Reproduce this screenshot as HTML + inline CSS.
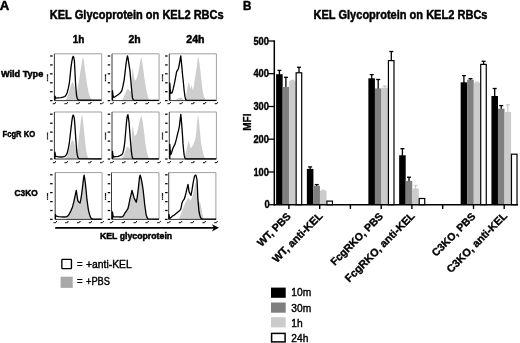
<!DOCTYPE html>
<html lang="en">
<head>
<meta charset="utf-8">
<title>KEL Glycoprotein on KEL2 RBCs</title>
<style>
html,body{margin:0;padding:0;background:#fff;}
body{width:520px;height:343px;overflow:hidden;}
svg{display:block;}
</style>
</head>
<body>
<svg width="520" height="343" viewBox="0 0 520 343">
<rect x="0" y="0" width="520" height="343" fill="#ffffff"/>
<text x="-0.3" y="9.6" font-family="'Liberation Sans', Arial, sans-serif" font-size="12.90" font-weight="bold" textLength="9.5" lengthAdjust="spacingAndGlyphs" stroke="#000" stroke-width="0.50" stroke-linejoin="round" fill="#000" >A</text>
<text x="243.0" y="9.6" font-family="'Liberation Sans', Arial, sans-serif" font-size="11.90" font-weight="bold" textLength="8.4" lengthAdjust="spacingAndGlyphs" stroke="#000" stroke-width="0.45" stroke-linejoin="round" fill="#000" >B</text>
<text x="49.8" y="19.3" font-family="'Liberation Sans', Arial, sans-serif" font-size="11.90" font-weight="bold" textLength="173.9" lengthAdjust="spacingAndGlyphs" stroke="#000" stroke-width="0.45" stroke-linejoin="round" fill="#000" >KEL Glycoprotein on KEL2 RBCs</text>
<text x="313.5" y="19.3" font-family="'Liberation Sans', Arial, sans-serif" font-size="11.90" font-weight="bold" textLength="174.0" lengthAdjust="spacingAndGlyphs" stroke="#000" stroke-width="0.45" stroke-linejoin="round" fill="#000" >KEL Glycoprotein on KEL2 RBCs</text>
<text x="72.7" y="42.6" font-family="'Liberation Sans', Arial, sans-serif" font-size="10.00" font-weight="bold" textLength="11.6" lengthAdjust="spacingAndGlyphs" stroke="#000" stroke-width="0.45" stroke-linejoin="round" fill="#000" >1h</text>
<text x="128.4" y="42.6" font-family="'Liberation Sans', Arial, sans-serif" font-size="10.00" font-weight="bold" textLength="12.2" lengthAdjust="spacingAndGlyphs" stroke="#000" stroke-width="0.45" stroke-linejoin="round" fill="#000" >2h</text>
<text x="186.3" y="42.6" font-family="'Liberation Sans', Arial, sans-serif" font-size="10.00" font-weight="bold" textLength="18.3" lengthAdjust="spacingAndGlyphs" stroke="#000" stroke-width="0.45" stroke-linejoin="round" fill="#000" >24h</text>
<text x="0.9" y="76.8" font-family="'Liberation Sans', Arial, sans-serif" font-size="9.30" font-weight="bold" textLength="42.4" lengthAdjust="spacingAndGlyphs" stroke="#000" stroke-width="0.50" stroke-linejoin="round" fill="#000" >Wild Type</text>
<text x="2.6" y="137.4" font-family="'Liberation Sans', Arial, sans-serif" font-size="9.30" font-weight="bold" textLength="32.5" lengthAdjust="spacingAndGlyphs" stroke="#000" stroke-width="0.50" stroke-linejoin="round" fill="#000" >FcgR KO</text>
<text x="14.6" y="195.8" font-family="'Liberation Sans', Arial, sans-serif" font-size="9.30" font-weight="bold" textLength="23.0" lengthAdjust="spacingAndGlyphs" stroke="#000" stroke-width="0.50" stroke-linejoin="round" fill="#000" >C3KO</text>
<text x="99.9" y="239.3" font-family="'Liberation Sans', Arial, sans-serif" font-size="9.50" font-weight="bold" textLength="72.3" lengthAdjust="spacingAndGlyphs" stroke="#000" stroke-width="0.50" stroke-linejoin="round" fill="#000" >KEL glycoprotein</text>
<text x="76.9" y="267.5" font-family="'Liberation Sans', Arial, sans-serif" font-size="10.00" textLength="5.6" lengthAdjust="spacingAndGlyphs" stroke="#000" stroke-width="0.40" stroke-linejoin="round" fill="#000" >=</text>
<text x="86.0" y="267.5" font-family="'Liberation Sans', Arial, sans-serif" font-size="10.00" textLength="45.7" lengthAdjust="spacingAndGlyphs" stroke="#000" stroke-width="0.40" stroke-linejoin="round" fill="#000" >+anti-KEL</text>
<text x="76.9" y="284.9" font-family="'Liberation Sans', Arial, sans-serif" font-size="10.00" textLength="5.6" lengthAdjust="spacingAndGlyphs" stroke="#000" stroke-width="0.40" stroke-linejoin="round" fill="#000" >=</text>
<text x="86.0" y="284.9" font-family="'Liberation Sans', Arial, sans-serif" font-size="10.00" textLength="24.0" lengthAdjust="spacingAndGlyphs" stroke="#000" stroke-width="0.40" stroke-linejoin="round" fill="#000" >+PBS</text>
<rect x="61.85" y="259.35" width="9.6" height="9.2" rx="0.6" fill="#fff" stroke="#000" stroke-width="1.35"/>
<rect x="60.6" y="276.7" width="12.1" height="11.2" fill="#a8a8a8"/>
<line x1="55.2" y1="227.8" x2="214.5" y2="227.8" stroke="#000" stroke-width="1.7"/>
<path d="M219.0,227.8 L211.9,224.2 L213.9,227.8 L211.9,231.4 Z" fill="#000"/>
<path d="M65.5,100.4 L67.5,96.5 L69.4,90.5 L71.0,84.9 L72.6,81.8 L74.0,84.4 L75.5,90.5 L76.4,94.0 L77.2,90.4 L78.4,83.9 L79.5,78.1 L80.4,71.2 L81.3,65.7 L82.2,60.1 L83.1,56.9 L83.7,59.5 L84.3,64.2 L85.2,71.2 L86.1,78.1 L87.1,84.4 L88.2,90.4 L89.3,95.0 L90.5,98.1 L91.7,100.4Z" fill="#cecece"/>
<path d="M54.4,53.8 H101.7 V100.6" fill="none" stroke="#777" stroke-width="0.7"/>
<path d="M54.4,53.8 V100.6 H101.7" fill="none" stroke="#222" stroke-width="0.9"/>
<path d="M54.9,100.4 L54.9,96.1 L55.8,98.1 L58.0,97.8 L61.1,97.6 L63.0,97.2 L64.9,96.5 L66.0,95.1 L67.2,92.7 L68.3,88.4 L69.4,82.7 L70.2,75.3 L71.0,67.4 L71.8,61.6 L72.5,58.0 L73.2,56.3 L73.8,57.5 L74.4,61.1 L75.0,72.2 L75.5,82.7 L76.1,90.5 L76.6,96.0 L77.4,98.9 L78.5,100.0 L101.4,100.2" fill="none" stroke="#000" stroke-width="1.3" stroke-linejoin="round"/>
<line x1="50.1" y1="100.6" x2="52.6" y2="100.6" stroke="#000" stroke-width="1.25"/>
<line x1="50.1" y1="91.7" x2="52.6" y2="91.7" stroke="#000" stroke-width="1.25"/>
<line x1="50.1" y1="82.8" x2="52.6" y2="82.8" stroke="#000" stroke-width="1.25"/>
<line x1="50.1" y1="73.8" x2="52.6" y2="73.8" stroke="#000" stroke-width="1.25"/>
<line x1="50.1" y1="64.9" x2="52.6" y2="64.9" stroke="#000" stroke-width="1.25"/>
<line x1="50.1" y1="56.0" x2="52.6" y2="56.0" stroke="#000" stroke-width="1.25"/>
<text transform="translate(48.1,77.8) rotate(-90)" font-family="'Liberation Sans', sans-serif" font-size="1.6" font-weight="bold" fill="#111" stroke="#111" stroke-width="0.3" text-anchor="middle">% of Max</text>
<text x="54.4" y="104.2" font-family="'Liberation Sans', sans-serif" font-size="2.2" font-weight="bold" fill="#111" stroke="#111" stroke-width="0.25" text-anchor="middle">10<tspan dy="-0.9" font-size="1.8">0</tspan></text>
<text x="66.2" y="104.2" font-family="'Liberation Sans', sans-serif" font-size="2.2" font-weight="bold" fill="#111" stroke="#111" stroke-width="0.25" text-anchor="middle">10<tspan dy="-0.9" font-size="1.8">1</tspan></text>
<text x="78.0" y="104.2" font-family="'Liberation Sans', sans-serif" font-size="2.2" font-weight="bold" fill="#111" stroke="#111" stroke-width="0.25" text-anchor="middle">10<tspan dy="-0.9" font-size="1.8">2</tspan></text>
<text x="89.9" y="104.2" font-family="'Liberation Sans', sans-serif" font-size="2.2" font-weight="bold" fill="#111" stroke="#111" stroke-width="0.25" text-anchor="middle">10<tspan dy="-0.9" font-size="1.8">3</tspan></text>
<text x="101.7" y="104.2" font-family="'Liberation Sans', sans-serif" font-size="2.2" font-weight="bold" fill="#111" stroke="#111" stroke-width="0.25" text-anchor="middle">10<tspan dy="-0.9" font-size="1.8">4</tspan></text>
<path d="M122.0,100.4 L124.0,96.5 L126.0,91.5 L127.8,88.4 L129.5,90.5 L131.0,91.5 L131.6,80.3 L132.5,68.1 L133.2,71.2 L134.0,77.3 L135.0,81.1 L136.4,78.8 L137.8,75.0 L139.0,69.2 L140.0,62.7 L140.7,59.0 L141.3,57.1 L141.9,60.1 L142.6,64.2 L143.4,70.2 L144.2,76.5 L145.1,82.9 L146.1,88.8 L147.1,93.5 L148.1,97.3 L149.2,100.4Z" fill="#cecece"/>
<path d="M112.0,53.8 H159.1 V100.6" fill="none" stroke="#777" stroke-width="0.7"/>
<path d="M112.0,53.8 V100.6 H159.1" fill="none" stroke="#222" stroke-width="0.9"/>
<path d="M112.5,100.4 L112.5,90.7 L113.0,95.5 L113.6,97.3 L115.0,96.8 L116.6,95.7 L118.0,94.7 L119.6,93.4 L120.8,92.3 L121.9,90.4 L123.0,85.9 L124.2,79.6 L125.1,72.2 L126.0,64.2 L126.8,59.0 L127.5,56.0 L128.1,58.5 L128.7,62.7 L129.3,66.6 L129.9,70.4 L130.6,78.3 L131.4,87.2 L132.0,93.5 L132.5,98.1 L133.2,99.6 L134.0,100.2 L158.8,100.3" fill="none" stroke="#000" stroke-width="1.3" stroke-linejoin="round"/>
<line x1="107.7" y1="100.6" x2="110.2" y2="100.6" stroke="#000" stroke-width="1.25"/>
<line x1="107.7" y1="91.7" x2="110.2" y2="91.7" stroke="#000" stroke-width="1.25"/>
<line x1="107.7" y1="82.8" x2="110.2" y2="82.8" stroke="#000" stroke-width="1.25"/>
<line x1="107.7" y1="73.8" x2="110.2" y2="73.8" stroke="#000" stroke-width="1.25"/>
<line x1="107.7" y1="64.9" x2="110.2" y2="64.9" stroke="#000" stroke-width="1.25"/>
<line x1="107.7" y1="56.0" x2="110.2" y2="56.0" stroke="#000" stroke-width="1.25"/>
<text transform="translate(105.7,77.8) rotate(-90)" font-family="'Liberation Sans', sans-serif" font-size="1.6" font-weight="bold" fill="#111" stroke="#111" stroke-width="0.3" text-anchor="middle">% of Max</text>
<text x="112.0" y="104.2" font-family="'Liberation Sans', sans-serif" font-size="2.2" font-weight="bold" fill="#111" stroke="#111" stroke-width="0.25" text-anchor="middle">10<tspan dy="-0.9" font-size="1.8">0</tspan></text>
<text x="123.8" y="104.2" font-family="'Liberation Sans', sans-serif" font-size="2.2" font-weight="bold" fill="#111" stroke="#111" stroke-width="0.25" text-anchor="middle">10<tspan dy="-0.9" font-size="1.8">1</tspan></text>
<text x="135.6" y="104.2" font-family="'Liberation Sans', sans-serif" font-size="2.2" font-weight="bold" fill="#111" stroke="#111" stroke-width="0.25" text-anchor="middle">10<tspan dy="-0.9" font-size="1.8">2</tspan></text>
<text x="147.3" y="104.2" font-family="'Liberation Sans', sans-serif" font-size="2.2" font-weight="bold" fill="#111" stroke="#111" stroke-width="0.25" text-anchor="middle">10<tspan dy="-0.9" font-size="1.8">3</tspan></text>
<text x="159.1" y="104.2" font-family="'Liberation Sans', sans-serif" font-size="2.2" font-weight="bold" fill="#111" stroke="#111" stroke-width="0.25" text-anchor="middle">10<tspan dy="-0.9" font-size="1.8">4</tspan></text>
<path d="M175.0,100.4 L177.0,98.8 L179.5,97.9 L181.0,97.2 L182.5,98.6 L184.0,100.4Z" fill="#cecece"/>
<path d="M185.2,100.4 L186.0,96.5 L187.2,88.8 L188.2,84.4 L189.0,81.8 L189.6,84.9 L190.2,88.8 L190.9,86.9 L191.5,85.0 L192.3,87.9 L193.0,90.4 L193.9,85.9 L194.8,79.6 L196.0,71.7 L197.1,64.2 L197.7,59.5 L198.3,56.0 L198.9,59.5 L199.6,64.2 L200.4,71.2 L201.2,78.1 L202.1,86.4 L203.1,93.4 L204.1,96.9 L205.1,98.8 L207.0,100.4Z" fill="#cecece"/>
<path d="M169.3,53.8 H216.4 V100.6" fill="none" stroke="#777" stroke-width="0.7"/>
<path d="M169.3,53.8 V100.6 H216.4" fill="none" stroke="#222" stroke-width="0.9"/>
<path d="M169.8,100.4 L169.8,83.2 L170.2,89.5 L170.7,93.4 L172.1,92.7 L173.2,88.9 L174.3,84.2 L175.5,77.8 L176.6,71.9 L177.4,70.4 L178.1,69.6 L178.9,66.6 L179.6,62.7 L180.2,59.0 L180.8,56.0 L181.3,61.1 L181.9,67.4 L182.6,75.3 L183.4,82.7 L184.1,90.0 L184.9,96.4 L185.6,99.2 L186.5,100.2 L216.2,100.3" fill="none" stroke="#000" stroke-width="1.3" stroke-linejoin="round"/>
<line x1="165.1" y1="100.6" x2="167.6" y2="100.6" stroke="#000" stroke-width="1.25"/>
<line x1="165.1" y1="91.7" x2="167.6" y2="91.7" stroke="#000" stroke-width="1.25"/>
<line x1="165.1" y1="82.8" x2="167.6" y2="82.8" stroke="#000" stroke-width="1.25"/>
<line x1="165.1" y1="73.8" x2="167.6" y2="73.8" stroke="#000" stroke-width="1.25"/>
<line x1="165.1" y1="64.9" x2="167.6" y2="64.9" stroke="#000" stroke-width="1.25"/>
<line x1="165.1" y1="56.0" x2="167.6" y2="56.0" stroke="#000" stroke-width="1.25"/>
<text transform="translate(163.1,77.8) rotate(-90)" font-family="'Liberation Sans', sans-serif" font-size="1.6" font-weight="bold" fill="#111" stroke="#111" stroke-width="0.3" text-anchor="middle">% of Max</text>
<text x="169.3" y="104.2" font-family="'Liberation Sans', sans-serif" font-size="2.2" font-weight="bold" fill="#111" stroke="#111" stroke-width="0.25" text-anchor="middle">10<tspan dy="-0.9" font-size="1.8">0</tspan></text>
<text x="181.1" y="104.2" font-family="'Liberation Sans', sans-serif" font-size="2.2" font-weight="bold" fill="#111" stroke="#111" stroke-width="0.25" text-anchor="middle">10<tspan dy="-0.9" font-size="1.8">1</tspan></text>
<text x="192.9" y="104.2" font-family="'Liberation Sans', sans-serif" font-size="2.2" font-weight="bold" fill="#111" stroke="#111" stroke-width="0.25" text-anchor="middle">10<tspan dy="-0.9" font-size="1.8">2</tspan></text>
<text x="204.6" y="104.2" font-family="'Liberation Sans', sans-serif" font-size="2.2" font-weight="bold" fill="#111" stroke="#111" stroke-width="0.25" text-anchor="middle">10<tspan dy="-0.9" font-size="1.8">3</tspan></text>
<text x="216.4" y="104.2" font-family="'Liberation Sans', sans-serif" font-size="2.2" font-weight="bold" fill="#111" stroke="#111" stroke-width="0.25" text-anchor="middle">10<tspan dy="-0.9" font-size="1.8">4</tspan></text>
<path d="M65.5,158.9 L67.5,154.7 L69.4,148.6 L71.0,142.5 L72.6,140.0 L74.0,142.5 L75.5,149.1 L76.8,152.2 L77.6,147.6 L78.5,140.8 L79.3,134.4 L80.0,128.4 L80.8,121.6 L81.6,116.1 L82.2,115.0 L82.8,118.6 L83.5,125.4 L84.3,133.3 L85.0,140.8 L85.8,147.6 L86.6,153.1 L87.5,156.3 L88.4,158.1 L89.3,158.9Z" fill="#cecece"/>
<path d="M54.4,112.0 H101.7 V159.0" fill="none" stroke="#777" stroke-width="0.7"/>
<path d="M54.4,112.0 V159.0 H101.7" fill="none" stroke="#222" stroke-width="0.9"/>
<path d="M54.9,158.9 L54.9,152.2 L55.4,155.2 L56.0,156.3 L58.5,156.8 L61.1,157.0 L63.0,156.8 L64.9,156.3 L66.1,155.1 L67.2,153.1 L68.3,148.6 L69.4,142.3 L70.2,135.4 L71.0,128.4 L71.8,121.6 L72.5,116.8 L73.2,115.0 L73.8,116.0 L74.4,119.2 L75.0,126.7 L75.5,134.7 L76.1,143.0 L76.6,150.0 L77.2,154.2 L77.8,157.0 L78.6,158.3 L79.5,158.7 L101.4,158.8" fill="none" stroke="#000" stroke-width="1.3" stroke-linejoin="round"/>
<line x1="50.1" y1="159.0" x2="52.6" y2="159.0" stroke="#000" stroke-width="1.25"/>
<line x1="50.1" y1="150.0" x2="52.6" y2="150.0" stroke="#000" stroke-width="1.25"/>
<line x1="50.1" y1="141.1" x2="52.6" y2="141.1" stroke="#000" stroke-width="1.25"/>
<line x1="50.1" y1="132.1" x2="52.6" y2="132.1" stroke="#000" stroke-width="1.25"/>
<line x1="50.1" y1="123.2" x2="52.6" y2="123.2" stroke="#000" stroke-width="1.25"/>
<line x1="50.1" y1="114.2" x2="52.6" y2="114.2" stroke="#000" stroke-width="1.25"/>
<text transform="translate(48.1,136.1) rotate(-90)" font-family="'Liberation Sans', sans-serif" font-size="1.6" font-weight="bold" fill="#111" stroke="#111" stroke-width="0.3" text-anchor="middle">% of Max</text>
<text x="54.4" y="162.6" font-family="'Liberation Sans', sans-serif" font-size="2.2" font-weight="bold" fill="#111" stroke="#111" stroke-width="0.25" text-anchor="middle">10<tspan dy="-0.9" font-size="1.8">0</tspan></text>
<text x="66.2" y="162.6" font-family="'Liberation Sans', sans-serif" font-size="2.2" font-weight="bold" fill="#111" stroke="#111" stroke-width="0.25" text-anchor="middle">10<tspan dy="-0.9" font-size="1.8">1</tspan></text>
<text x="78.0" y="162.6" font-family="'Liberation Sans', sans-serif" font-size="2.2" font-weight="bold" fill="#111" stroke="#111" stroke-width="0.25" text-anchor="middle">10<tspan dy="-0.9" font-size="1.8">2</tspan></text>
<text x="89.9" y="162.6" font-family="'Liberation Sans', sans-serif" font-size="2.2" font-weight="bold" fill="#111" stroke="#111" stroke-width="0.25" text-anchor="middle">10<tspan dy="-0.9" font-size="1.8">3</tspan></text>
<text x="101.7" y="162.6" font-family="'Liberation Sans', sans-serif" font-size="2.2" font-weight="bold" fill="#111" stroke="#111" stroke-width="0.25" text-anchor="middle">10<tspan dy="-0.9" font-size="1.8">4</tspan></text>
<path d="M122.0,158.9 L124.0,154.7 L126.0,149.1 L127.8,146.6 L129.5,149.1 L131.0,147.6 L131.7,136.4 L132.5,125.4 L133.2,128.2 L133.9,132.8 L134.5,136.2 L135.8,134.9 L137.0,133.0 L138.2,127.7 L139.3,122.2 L140.3,118.4 L141.3,115.1 L142.0,118.1 L142.8,122.6 L143.7,129.3 L144.6,136.2 L145.4,143.0 L146.1,148.5 L147.1,152.9 L148.1,156.3 L149.2,158.9Z" fill="#cecece"/>
<path d="M112.0,112.0 H159.1 V159.0" fill="none" stroke="#777" stroke-width="0.7"/>
<path d="M112.0,112.0 V159.0 H159.1" fill="none" stroke="#222" stroke-width="0.9"/>
<path d="M112.5,158.9 L112.5,151.3 L112.9,155.2 L113.4,157.0 L115.5,156.7 L118.1,156.3 L120.0,155.6 L121.9,154.7 L123.1,152.2 L124.2,147.0 L125.0,140.0 L125.7,131.5 L126.3,124.2 L126.9,118.4 L127.4,115.8 L127.9,114.7 L128.4,117.6 L129.0,122.2 L129.6,129.8 L130.2,137.7 L130.8,145.1 L131.4,151.6 L132.0,155.7 L132.5,158.1 L133.3,158.7 L158.8,158.8" fill="none" stroke="#000" stroke-width="1.3" stroke-linejoin="round"/>
<line x1="107.7" y1="159.0" x2="110.2" y2="159.0" stroke="#000" stroke-width="1.25"/>
<line x1="107.7" y1="150.0" x2="110.2" y2="150.0" stroke="#000" stroke-width="1.25"/>
<line x1="107.7" y1="141.1" x2="110.2" y2="141.1" stroke="#000" stroke-width="1.25"/>
<line x1="107.7" y1="132.1" x2="110.2" y2="132.1" stroke="#000" stroke-width="1.25"/>
<line x1="107.7" y1="123.2" x2="110.2" y2="123.2" stroke="#000" stroke-width="1.25"/>
<line x1="107.7" y1="114.2" x2="110.2" y2="114.2" stroke="#000" stroke-width="1.25"/>
<text transform="translate(105.7,136.1) rotate(-90)" font-family="'Liberation Sans', sans-serif" font-size="1.6" font-weight="bold" fill="#111" stroke="#111" stroke-width="0.3" text-anchor="middle">% of Max</text>
<text x="112.0" y="162.6" font-family="'Liberation Sans', sans-serif" font-size="2.2" font-weight="bold" fill="#111" stroke="#111" stroke-width="0.25" text-anchor="middle">10<tspan dy="-0.9" font-size="1.8">0</tspan></text>
<text x="123.8" y="162.6" font-family="'Liberation Sans', sans-serif" font-size="2.2" font-weight="bold" fill="#111" stroke="#111" stroke-width="0.25" text-anchor="middle">10<tspan dy="-0.9" font-size="1.8">1</tspan></text>
<text x="135.6" y="162.6" font-family="'Liberation Sans', sans-serif" font-size="2.2" font-weight="bold" fill="#111" stroke="#111" stroke-width="0.25" text-anchor="middle">10<tspan dy="-0.9" font-size="1.8">2</tspan></text>
<text x="147.3" y="162.6" font-family="'Liberation Sans', sans-serif" font-size="2.2" font-weight="bold" fill="#111" stroke="#111" stroke-width="0.25" text-anchor="middle">10<tspan dy="-0.9" font-size="1.8">3</tspan></text>
<text x="159.1" y="162.6" font-family="'Liberation Sans', sans-serif" font-size="2.2" font-weight="bold" fill="#111" stroke="#111" stroke-width="0.25" text-anchor="middle">10<tspan dy="-0.9" font-size="1.8">4</tspan></text>
<path d="M184.0,158.9 L185.2,155.2 L186.5,150.0 L187.7,144.7 L188.7,140.8 L189.7,144.5 L190.6,148.5 L192.0,146.8 L193.3,144.6 L194.5,141.5 L195.6,137.7 L196.4,130.3 L197.1,122.2 L197.6,117.6 L198.0,114.7 L198.7,119.1 L199.4,125.4 L200.3,134.9 L201.2,143.9 L202.1,149.1 L203.1,153.1 L204.1,156.3 L205.1,158.1 L206.3,158.9Z" fill="#cecece"/>
<path d="M169.3,112.0 H216.4 V159.0" fill="none" stroke="#777" stroke-width="0.7"/>
<path d="M169.3,112.0 V159.0 H216.4" fill="none" stroke="#222" stroke-width="0.9"/>
<path d="M169.8,158.9 L169.8,144.3 L170.2,150.7 L170.7,154.7 L171.7,152.2 L172.8,148.5 L174.0,146.1 L175.1,143.9 L176.3,139.4 L177.4,134.7 L178.4,130.8 L179.3,126.9 L180.1,120.1 L180.8,114.3 L181.3,119.6 L181.9,126.9 L182.5,135.4 L183.0,143.9 L183.6,150.1 L184.2,155.4 L184.9,157.8 L185.7,158.8 L216.2,158.8" fill="none" stroke="#000" stroke-width="1.3" stroke-linejoin="round"/>
<line x1="165.1" y1="159.0" x2="167.6" y2="159.0" stroke="#000" stroke-width="1.25"/>
<line x1="165.1" y1="150.0" x2="167.6" y2="150.0" stroke="#000" stroke-width="1.25"/>
<line x1="165.1" y1="141.1" x2="167.6" y2="141.1" stroke="#000" stroke-width="1.25"/>
<line x1="165.1" y1="132.1" x2="167.6" y2="132.1" stroke="#000" stroke-width="1.25"/>
<line x1="165.1" y1="123.2" x2="167.6" y2="123.2" stroke="#000" stroke-width="1.25"/>
<line x1="165.1" y1="114.2" x2="167.6" y2="114.2" stroke="#000" stroke-width="1.25"/>
<text transform="translate(163.1,136.1) rotate(-90)" font-family="'Liberation Sans', sans-serif" font-size="1.6" font-weight="bold" fill="#111" stroke="#111" stroke-width="0.3" text-anchor="middle">% of Max</text>
<text x="169.3" y="162.6" font-family="'Liberation Sans', sans-serif" font-size="2.2" font-weight="bold" fill="#111" stroke="#111" stroke-width="0.25" text-anchor="middle">10<tspan dy="-0.9" font-size="1.8">0</tspan></text>
<text x="181.1" y="162.6" font-family="'Liberation Sans', sans-serif" font-size="2.2" font-weight="bold" fill="#111" stroke="#111" stroke-width="0.25" text-anchor="middle">10<tspan dy="-0.9" font-size="1.8">1</tspan></text>
<text x="192.9" y="162.6" font-family="'Liberation Sans', sans-serif" font-size="2.2" font-weight="bold" fill="#111" stroke="#111" stroke-width="0.25" text-anchor="middle">10<tspan dy="-0.9" font-size="1.8">2</tspan></text>
<text x="204.6" y="162.6" font-family="'Liberation Sans', sans-serif" font-size="2.2" font-weight="bold" fill="#111" stroke="#111" stroke-width="0.25" text-anchor="middle">10<tspan dy="-0.9" font-size="1.8">3</tspan></text>
<text x="216.4" y="162.6" font-family="'Liberation Sans', sans-serif" font-size="2.2" font-weight="bold" fill="#111" stroke="#111" stroke-width="0.25" text-anchor="middle">10<tspan dy="-0.9" font-size="1.8">4</tspan></text>
<path d="M66.4,219.3 L68.0,215.8 L69.4,213.8 L71.0,210.6 L72.5,206.9 L73.7,202.4 L74.7,197.7 L75.5,193.8 L76.3,190.5 L77.0,195.3 L77.8,200.7 L78.9,202.2 L80.0,203.0 L80.8,199.4 L81.6,194.5 L82.4,188.2 L83.1,182.2 L83.6,178.0 L84.1,175.1 L84.8,179.1 L85.4,183.7 L86.2,191.3 L86.9,199.2 L87.7,205.0 L88.4,209.9 L89.5,214.4 L90.7,217.7 L91.5,219.3Z" fill="#cecece"/>
<path d="M55.2,172.6 H102.1 V219.4" fill="none" stroke="#777" stroke-width="0.7"/>
<path d="M55.2,172.6 V219.4 H102.1" fill="none" stroke="#222" stroke-width="0.9"/>
<path d="M55.4,219.3 L55.4,214.4 L55.8,215.6 L56.4,216.1 L58.5,216.7 L61.1,216.9 L64.0,217.0 L66.4,216.9 L68.0,215.8 L69.4,213.8 L71.0,210.6 L72.5,206.9 L73.7,202.4 L74.7,197.7 L75.5,193.8 L76.3,190.5 L77.0,195.3 L77.8,200.7 L78.9,202.2 L80.0,203.0 L80.8,199.4 L81.6,194.5 L82.4,188.2 L83.1,182.2 L83.6,178.0 L84.1,175.1 L84.8,179.1 L85.4,183.7 L86.2,191.3 L86.9,199.2 L87.7,205.0 L88.4,209.9 L89.5,214.4 L90.7,217.7 L91.8,218.7 L92.9,219.1 L101.4,219.2" fill="none" stroke="#000" stroke-width="1.3" stroke-linejoin="round"/>
<line x1="50.1" y1="219.4" x2="52.6" y2="219.4" stroke="#000" stroke-width="1.25"/>
<line x1="50.1" y1="210.5" x2="52.6" y2="210.5" stroke="#000" stroke-width="1.25"/>
<line x1="50.1" y1="201.6" x2="52.6" y2="201.6" stroke="#000" stroke-width="1.25"/>
<line x1="50.1" y1="192.6" x2="52.6" y2="192.6" stroke="#000" stroke-width="1.25"/>
<line x1="50.1" y1="183.7" x2="52.6" y2="183.7" stroke="#000" stroke-width="1.25"/>
<line x1="50.1" y1="174.8" x2="52.6" y2="174.8" stroke="#000" stroke-width="1.25"/>
<text transform="translate(48.1,196.6) rotate(-90)" font-family="'Liberation Sans', sans-serif" font-size="1.6" font-weight="bold" fill="#111" stroke="#111" stroke-width="0.3" text-anchor="middle">% of Max</text>
<text x="55.2" y="223.0" font-family="'Liberation Sans', sans-serif" font-size="2.2" font-weight="bold" fill="#111" stroke="#111" stroke-width="0.25" text-anchor="middle">10<tspan dy="-0.9" font-size="1.8">0</tspan></text>
<text x="66.9" y="223.0" font-family="'Liberation Sans', sans-serif" font-size="2.2" font-weight="bold" fill="#111" stroke="#111" stroke-width="0.25" text-anchor="middle">10<tspan dy="-0.9" font-size="1.8">1</tspan></text>
<text x="78.7" y="223.0" font-family="'Liberation Sans', sans-serif" font-size="2.2" font-weight="bold" fill="#111" stroke="#111" stroke-width="0.25" text-anchor="middle">10<tspan dy="-0.9" font-size="1.8">2</tspan></text>
<text x="90.4" y="223.0" font-family="'Liberation Sans', sans-serif" font-size="2.2" font-weight="bold" fill="#111" stroke="#111" stroke-width="0.25" text-anchor="middle">10<tspan dy="-0.9" font-size="1.8">3</tspan></text>
<text x="102.1" y="223.0" font-family="'Liberation Sans', sans-serif" font-size="2.2" font-weight="bold" fill="#111" stroke="#111" stroke-width="0.25" text-anchor="middle">10<tspan dy="-0.9" font-size="1.8">4</tspan></text>
<path d="M122.6,219.3 L123.8,215.1 L124.9,213.0 L126.5,210.8 L128.0,208.4 L129.0,204.0 L129.9,199.2 L131.0,194.8 L132.0,190.5 L133.0,193.8 L134.0,197.7 L135.2,200.1 L136.3,202.2 L137.1,197.9 L137.8,193.0 L138.6,186.2 L139.3,179.2 L139.7,176.5 L140.1,175.1 L140.9,177.5 L141.6,180.7 L142.4,185.2 L143.1,189.9 L143.9,196.8 L144.6,203.8 L145.4,209.5 L146.1,214.6 L147.1,217.5 L148.1,219.3Z" fill="#cecece"/>
<path d="M111.5,172.6 H159.0 V219.4" fill="none" stroke="#777" stroke-width="0.7"/>
<path d="M111.5,172.6 V219.4 H159.0" fill="none" stroke="#222" stroke-width="0.9"/>
<path d="M112.5,219.3 L112.5,212.0 L112.9,215.1 L113.4,216.9 L115.5,216.9 L118.1,216.9 L120.5,217.0 L122.6,216.9 L123.8,215.1 L124.9,213.0 L126.5,210.8 L128.0,208.4 L129.0,204.0 L129.9,199.2 L131.0,194.8 L132.0,190.5 L133.0,193.8 L134.0,197.7 L135.2,200.1 L136.3,202.2 L137.1,197.9 L137.8,193.0 L138.6,186.2 L139.3,179.2 L139.7,176.5 L140.1,175.1 L140.9,177.5 L141.6,180.7 L142.4,185.2 L143.1,189.9 L143.9,196.8 L144.6,203.8 L145.4,209.5 L146.1,214.6 L147.1,217.5 L148.1,218.9 L158.8,219.2" fill="none" stroke="#000" stroke-width="1.3" stroke-linejoin="round"/>
<line x1="107.7" y1="219.4" x2="110.2" y2="219.4" stroke="#000" stroke-width="1.25"/>
<line x1="107.7" y1="210.5" x2="110.2" y2="210.5" stroke="#000" stroke-width="1.25"/>
<line x1="107.7" y1="201.6" x2="110.2" y2="201.6" stroke="#000" stroke-width="1.25"/>
<line x1="107.7" y1="192.6" x2="110.2" y2="192.6" stroke="#000" stroke-width="1.25"/>
<line x1="107.7" y1="183.7" x2="110.2" y2="183.7" stroke="#000" stroke-width="1.25"/>
<line x1="107.7" y1="174.8" x2="110.2" y2="174.8" stroke="#000" stroke-width="1.25"/>
<text transform="translate(105.7,196.6) rotate(-90)" font-family="'Liberation Sans', sans-serif" font-size="1.6" font-weight="bold" fill="#111" stroke="#111" stroke-width="0.3" text-anchor="middle">% of Max</text>
<text x="111.5" y="223.0" font-family="'Liberation Sans', sans-serif" font-size="2.2" font-weight="bold" fill="#111" stroke="#111" stroke-width="0.25" text-anchor="middle">10<tspan dy="-0.9" font-size="1.8">0</tspan></text>
<text x="123.4" y="223.0" font-family="'Liberation Sans', sans-serif" font-size="2.2" font-weight="bold" fill="#111" stroke="#111" stroke-width="0.25" text-anchor="middle">10<tspan dy="-0.9" font-size="1.8">1</tspan></text>
<text x="135.2" y="223.0" font-family="'Liberation Sans', sans-serif" font-size="2.2" font-weight="bold" fill="#111" stroke="#111" stroke-width="0.25" text-anchor="middle">10<tspan dy="-0.9" font-size="1.8">2</tspan></text>
<text x="147.1" y="223.0" font-family="'Liberation Sans', sans-serif" font-size="2.2" font-weight="bold" fill="#111" stroke="#111" stroke-width="0.25" text-anchor="middle">10<tspan dy="-0.9" font-size="1.8">3</tspan></text>
<text x="159.0" y="223.0" font-family="'Liberation Sans', sans-serif" font-size="2.2" font-weight="bold" fill="#111" stroke="#111" stroke-width="0.25" text-anchor="middle">10<tspan dy="-0.9" font-size="1.8">4</tspan></text>
<path d="M179.0,219.3 L180.5,215.1 L181.9,211.5 L183.5,207.5 L185.0,203.8 L186.1,201.4 L187.2,199.2 L188.0,198.2 L188.7,197.7 L189.5,199.4 L190.2,200.7 L191.4,198.9 L192.5,196.1 L193.7,191.3 L194.8,185.4 L195.6,182.6 L196.3,180.7 L197.5,189.2 L198.6,200.7 L199.6,202.2 L200.6,203.8 L201.5,209.0 L202.4,214.6 L203.3,217.5 L204.2,219.3Z" fill="#cecece"/>
<path d="M168.7,172.6 H215.9 V219.4" fill="none" stroke="#777" stroke-width="0.7"/>
<path d="M168.7,172.6 V219.4 H215.9" fill="none" stroke="#222" stroke-width="0.9"/>
<path d="M168.9,219.3 L168.9,214.4 L169.4,217.2 L170.0,218.3 L171.5,217.1 L172.8,215.8 L174.4,215.0 L176.4,213.2 L178.5,211.5 L179.8,210.4 L180.8,209.2 L181.4,206.0 L181.9,203.4 L182.5,201.7 L183.1,200.6 L184.2,199.2 L185.1,196.3 L186.0,193.0 L187.0,188.7 L188.0,184.3 L188.5,187.7 L189.0,191.5 L190.0,193.6 L191.0,195.3 L192.0,190.2 L193.0,183.7 L193.8,179.6 L194.5,176.1 L195.2,175.4 L195.9,175.1 L196.5,177.5 L197.1,180.7 L197.5,189.2 L197.8,197.7 L198.4,205.0 L199.0,211.5 L199.8,215.1 L200.6,217.7 L202.0,218.9 L216.2,219.2" fill="none" stroke="#000" stroke-width="1.3" stroke-linejoin="round"/>
<line x1="165.1" y1="219.4" x2="167.6" y2="219.4" stroke="#000" stroke-width="1.25"/>
<line x1="165.1" y1="210.5" x2="167.6" y2="210.5" stroke="#000" stroke-width="1.25"/>
<line x1="165.1" y1="201.6" x2="167.6" y2="201.6" stroke="#000" stroke-width="1.25"/>
<line x1="165.1" y1="192.6" x2="167.6" y2="192.6" stroke="#000" stroke-width="1.25"/>
<line x1="165.1" y1="183.7" x2="167.6" y2="183.7" stroke="#000" stroke-width="1.25"/>
<line x1="165.1" y1="174.8" x2="167.6" y2="174.8" stroke="#000" stroke-width="1.25"/>
<text transform="translate(163.1,196.6) rotate(-90)" font-family="'Liberation Sans', sans-serif" font-size="1.6" font-weight="bold" fill="#111" stroke="#111" stroke-width="0.3" text-anchor="middle">% of Max</text>
<text x="168.7" y="223.0" font-family="'Liberation Sans', sans-serif" font-size="2.2" font-weight="bold" fill="#111" stroke="#111" stroke-width="0.25" text-anchor="middle">10<tspan dy="-0.9" font-size="1.8">0</tspan></text>
<text x="180.5" y="223.0" font-family="'Liberation Sans', sans-serif" font-size="2.2" font-weight="bold" fill="#111" stroke="#111" stroke-width="0.25" text-anchor="middle">10<tspan dy="-0.9" font-size="1.8">1</tspan></text>
<text x="192.3" y="223.0" font-family="'Liberation Sans', sans-serif" font-size="2.2" font-weight="bold" fill="#111" stroke="#111" stroke-width="0.25" text-anchor="middle">10<tspan dy="-0.9" font-size="1.8">2</tspan></text>
<text x="204.1" y="223.0" font-family="'Liberation Sans', sans-serif" font-size="2.2" font-weight="bold" fill="#111" stroke="#111" stroke-width="0.25" text-anchor="middle">10<tspan dy="-0.9" font-size="1.8">3</tspan></text>
<text x="215.9" y="223.0" font-family="'Liberation Sans', sans-serif" font-size="2.2" font-weight="bold" fill="#111" stroke="#111" stroke-width="0.25" text-anchor="middle">10<tspan dy="-0.9" font-size="1.8">4</tspan></text>
<g font-family="'Liberation Sans', Arial, sans-serif" font-weight="bold" font-size="9" fill="#000" text-anchor="end">
<line x1="269.2" y1="204.7" x2="274.3" y2="204.7" stroke="#000" stroke-width="1.3"/>
<text x="269.6" y="208.3" font-size="10.4" textLength="5.2" lengthAdjust="spacingAndGlyphs" stroke="#000" stroke-width="0.35">0</text>
<line x1="268.0" y1="172.0" x2="274.3" y2="172.0" stroke="#000" stroke-width="1.3"/>
<text x="268.9" y="175.6" font-size="10.4" textLength="15.5" lengthAdjust="spacingAndGlyphs" stroke="#000" stroke-width="0.35">100</text>
<line x1="268.0" y1="139.2" x2="274.3" y2="139.2" stroke="#000" stroke-width="1.3"/>
<text x="268.9" y="142.9" font-size="10.4" textLength="15.5" lengthAdjust="spacingAndGlyphs" stroke="#000" stroke-width="0.35">200</text>
<line x1="268.0" y1="106.5" x2="274.3" y2="106.5" stroke="#000" stroke-width="1.3"/>
<text x="268.9" y="110.1" font-size="10.4" textLength="15.5" lengthAdjust="spacingAndGlyphs" stroke="#000" stroke-width="0.35">300</text>
<line x1="268.0" y1="73.7" x2="274.3" y2="73.7" stroke="#000" stroke-width="1.3"/>
<text x="268.9" y="77.4" font-size="10.4" textLength="15.5" lengthAdjust="spacingAndGlyphs" stroke="#000" stroke-width="0.35">400</text>
<line x1="268.0" y1="41.0" x2="274.3" y2="41.0" stroke="#000" stroke-width="1.3"/>
<text x="268.9" y="44.6" font-size="10.4" textLength="15.5" lengthAdjust="spacingAndGlyphs" stroke="#000" stroke-width="0.35">500</text>
</g>
<text transform="translate(250.6,122.2) rotate(-90)" font-family="'Liberation Sans', Arial, sans-serif" font-weight="bold" font-size="10" text-anchor="middle" fill="#000" stroke="#000" stroke-width="0.25">MFI</text>
<line x1="288.9" y1="204.7" x2="288.9" y2="208.9" stroke="#000" stroke-width="1.4"/>
<line x1="319.7" y1="204.7" x2="319.7" y2="208.9" stroke="#000" stroke-width="1.4"/>
<line x1="350.4" y1="204.7" x2="350.4" y2="208.9" stroke="#000" stroke-width="1.4"/>
<line x1="381.2" y1="204.7" x2="381.2" y2="208.9" stroke="#000" stroke-width="1.4"/>
<line x1="411.9" y1="204.7" x2="411.9" y2="208.9" stroke="#000" stroke-width="1.4"/>
<line x1="442.7" y1="204.7" x2="442.7" y2="208.9" stroke="#000" stroke-width="1.4"/>
<line x1="473.5" y1="204.7" x2="473.5" y2="208.9" stroke="#000" stroke-width="1.4"/>
<line x1="504.2" y1="204.7" x2="504.2" y2="208.9" stroke="#000" stroke-width="1.4"/>
<line x1="279.4" y1="70.4" x2="279.4" y2="75.2" stroke="#000" stroke-width="1.3"/>
<line x1="277.4" y1="70.4" x2="281.4" y2="70.4" stroke="#000" stroke-width="1.3"/>
<rect x="276.10" y="74.2" width="6.55" height="130.5" fill="#000"/>
<line x1="285.9" y1="77.3" x2="285.9" y2="88.0" stroke="#000" stroke-width="1.3"/>
<line x1="283.9" y1="77.3" x2="287.9" y2="77.3" stroke="#000" stroke-width="1.3"/>
<rect x="282.65" y="87.0" width="6.55" height="117.7" fill="#7f7f7f"/>
<line x1="292.5" y1="80.4" x2="292.5" y2="82.2" stroke="#cbcbcb" stroke-width="1.3"/>
<line x1="290.5" y1="80.4" x2="294.5" y2="80.4" stroke="#cbcbcb" stroke-width="1.3"/>
<rect x="289.20" y="81.2" width="6.55" height="123.5" fill="#cbcbcb"/>
<line x1="299.0" y1="67.3" x2="299.0" y2="73.2" stroke="#000" stroke-width="1.3"/>
<line x1="297.0" y1="67.3" x2="301.0" y2="67.3" stroke="#000" stroke-width="1.3"/>
<rect x="296.15" y="72.8" width="5.55" height="131.9" fill="#fff" stroke="#000" stroke-width="1.2"/>
<line x1="310.1" y1="166.9" x2="310.1" y2="169.9" stroke="#000" stroke-width="1.3"/>
<line x1="308.1" y1="166.9" x2="312.1" y2="166.9" stroke="#000" stroke-width="1.3"/>
<rect x="306.86" y="168.9" width="6.55" height="35.8" fill="#000"/>
<line x1="316.7" y1="184.6" x2="316.7" y2="186.8" stroke="#000" stroke-width="1.3"/>
<line x1="314.7" y1="184.6" x2="318.7" y2="184.6" stroke="#000" stroke-width="1.3"/>
<rect x="313.41" y="185.8" width="6.55" height="18.9" fill="#7f7f7f"/>
<line x1="323.2" y1="190.3" x2="323.2" y2="191.8" stroke="#cbcbcb" stroke-width="1.3"/>
<line x1="321.2" y1="190.3" x2="325.2" y2="190.3" stroke="#cbcbcb" stroke-width="1.3"/>
<rect x="319.96" y="190.8" width="6.55" height="13.9" fill="#cbcbcb"/>
<rect x="326.91" y="201.1" width="5.55" height="3.6" fill="#fff" stroke="#000" stroke-width="1.2"/>
<line x1="371.7" y1="74.6" x2="371.7" y2="79.3" stroke="#000" stroke-width="1.3"/>
<line x1="369.7" y1="74.6" x2="373.7" y2="74.6" stroke="#000" stroke-width="1.3"/>
<rect x="368.38" y="78.3" width="6.55" height="126.4" fill="#000"/>
<line x1="378.2" y1="79.5" x2="378.2" y2="89.4" stroke="#000" stroke-width="1.3"/>
<line x1="376.2" y1="79.5" x2="380.2" y2="79.5" stroke="#000" stroke-width="1.3"/>
<rect x="374.93" y="88.4" width="6.55" height="116.3" fill="#7f7f7f"/>
<line x1="384.8" y1="86.0" x2="384.8" y2="88.7" stroke="#cbcbcb" stroke-width="1.3"/>
<line x1="382.8" y1="86.0" x2="386.8" y2="86.0" stroke="#cbcbcb" stroke-width="1.3"/>
<rect x="381.48" y="87.7" width="6.55" height="117.0" fill="#cbcbcb"/>
<line x1="391.3" y1="51.5" x2="391.3" y2="61.0" stroke="#000" stroke-width="1.3"/>
<line x1="389.3" y1="51.5" x2="393.3" y2="51.5" stroke="#000" stroke-width="1.3"/>
<rect x="388.43" y="60.6" width="5.55" height="144.1" fill="#fff" stroke="#000" stroke-width="1.2"/>
<line x1="402.4" y1="148.7" x2="402.4" y2="156.3" stroke="#000" stroke-width="1.3"/>
<line x1="400.4" y1="148.7" x2="404.4" y2="148.7" stroke="#000" stroke-width="1.3"/>
<rect x="399.14" y="155.3" width="6.55" height="49.4" fill="#000"/>
<line x1="409.0" y1="177.2" x2="409.0" y2="181.9" stroke="#000" stroke-width="1.3"/>
<line x1="407.0" y1="177.2" x2="411.0" y2="177.2" stroke="#000" stroke-width="1.3"/>
<rect x="405.69" y="180.9" width="6.55" height="23.8" fill="#7f7f7f"/>
<line x1="415.5" y1="185.5" x2="415.5" y2="189.5" stroke="#cbcbcb" stroke-width="1.3"/>
<line x1="413.5" y1="185.5" x2="417.5" y2="185.5" stroke="#cbcbcb" stroke-width="1.3"/>
<rect x="412.24" y="188.5" width="6.55" height="16.2" fill="#cbcbcb"/>
<rect x="419.19" y="198.5" width="5.55" height="6.2" fill="#fff" stroke="#000" stroke-width="1.2"/>
<line x1="463.9" y1="75.6" x2="463.9" y2="83.3" stroke="#000" stroke-width="1.3"/>
<line x1="461.9" y1="75.6" x2="465.9" y2="75.6" stroke="#000" stroke-width="1.3"/>
<rect x="460.66" y="82.3" width="6.55" height="122.4" fill="#000"/>
<line x1="470.5" y1="78.7" x2="470.5" y2="80.7" stroke="#000" stroke-width="1.3"/>
<line x1="468.5" y1="78.7" x2="472.5" y2="78.7" stroke="#000" stroke-width="1.3"/>
<rect x="467.21" y="79.7" width="6.55" height="125.0" fill="#7f7f7f"/>
<line x1="477.0" y1="82.2" x2="477.0" y2="83.8" stroke="#cbcbcb" stroke-width="1.3"/>
<line x1="475.0" y1="82.2" x2="479.0" y2="82.2" stroke="#cbcbcb" stroke-width="1.3"/>
<rect x="473.76" y="82.8" width="6.55" height="121.9" fill="#cbcbcb"/>
<line x1="483.6" y1="61.3" x2="483.6" y2="64.8" stroke="#000" stroke-width="1.3"/>
<line x1="481.6" y1="61.3" x2="485.6" y2="61.3" stroke="#000" stroke-width="1.3"/>
<rect x="480.71" y="64.4" width="5.55" height="140.3" fill="#fff" stroke="#000" stroke-width="1.2"/>
<line x1="494.7" y1="88.5" x2="494.7" y2="97.0" stroke="#000" stroke-width="1.3"/>
<line x1="492.7" y1="88.5" x2="496.7" y2="88.5" stroke="#000" stroke-width="1.3"/>
<rect x="491.42" y="96.0" width="6.55" height="108.7" fill="#000"/>
<line x1="501.2" y1="105.6" x2="501.2" y2="109.7" stroke="#000" stroke-width="1.3"/>
<line x1="499.2" y1="105.6" x2="503.2" y2="105.6" stroke="#000" stroke-width="1.3"/>
<rect x="497.97" y="108.7" width="6.55" height="96.0" fill="#7f7f7f"/>
<line x1="507.8" y1="104.8" x2="507.8" y2="113.0" stroke="#cbcbcb" stroke-width="1.3"/>
<line x1="505.8" y1="104.8" x2="509.8" y2="104.8" stroke="#cbcbcb" stroke-width="1.3"/>
<rect x="504.52" y="112.0" width="6.55" height="92.7" fill="#cbcbcb"/>
<rect x="511.47" y="154.2" width="5.55" height="50.5" fill="#fff" stroke="#000" stroke-width="1.2"/>
<line x1="274.3" y1="40.3" x2="274.3" y2="205.4" stroke="#000" stroke-width="1.5"/>
<line x1="273.7" y1="204.7" x2="518" y2="204.7" stroke="#000" stroke-width="1.4"/>
<g font-family="'Liberation Sans', Arial, sans-serif" font-weight="bold" font-size="10.2" fill="#000" stroke="#000" stroke-width="0.35" text-anchor="end">
<text transform="translate(291.5,217.0) rotate(-45)" font-size="10.5">WT, PBS</text>
<text transform="translate(323.3,216.6) rotate(-45)" font-size="10.8">WT, anti-KEL</text>
<text transform="translate(383.8,217.0) rotate(-45)" font-size="10.5">FcgRKO, PBS</text>
<text transform="translate(415.5,216.6) rotate(-45)" font-size="10.8">FcgRKO, anti-KEL</text>
<text transform="translate(476.1,217.0) rotate(-45)" font-size="10.5">C3KO, PBS</text>
<text transform="translate(507.8,216.6) rotate(-45)" font-size="10.8">C3KO, anti-KEL</text>
</g>
<g font-family="'Liberation Sans', Arial, sans-serif" font-size="10" fill="#000" stroke="#000" stroke-width="0.4">
<rect x="271.0" y="287.6" width="14.7" height="10.2" fill="#000" stroke="none"/>
<text x="291.3" y="296.3" font-size="10.8" textLength="19.9" lengthAdjust="spacingAndGlyphs">10m</text>
<rect x="271.0" y="302.5" width="14.7" height="10.2" fill="#7f7f7f" stroke="none"/>
<text x="291.3" y="311.9" font-size="10.8" textLength="19.9" lengthAdjust="spacingAndGlyphs">30m</text>
<rect x="271.0" y="317.2" width="14.7" height="10.2" fill="#cbcbcb" stroke="none"/>
<text x="291.3" y="326.9" font-size="10.8" textLength="11.4" lengthAdjust="spacingAndGlyphs">1h</text>
<rect x="271.6" y="333.4" width="13.5" height="8.5" fill="#fff" stroke="#000" stroke-width="1.5"/>
<text x="291.3" y="342.2" font-size="10.8" textLength="17.0" lengthAdjust="spacingAndGlyphs">24h</text>
</g>
</svg>
</body>
</html>
